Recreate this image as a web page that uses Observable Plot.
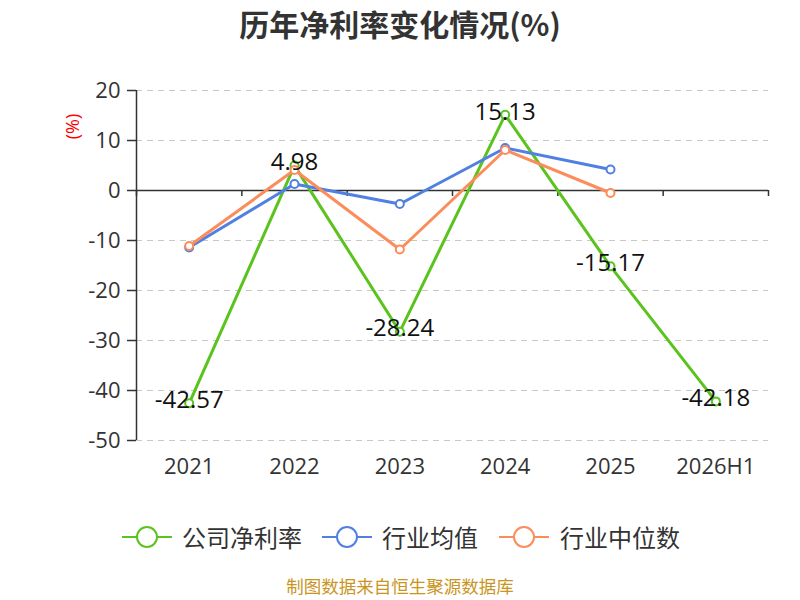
<!DOCTYPE html>
<html><head><meta charset="utf-8">
<script src="https://cdn.jsdelivr.net/npm/d3@7"></script>
<script src="https://cdn.jsdelivr.net/npm/@observablehq/plot@0.6"></script>
<style>
body{margin:0;background:#fff;font-family:"Noto Sans CJK SC","Noto Sans",sans-serif;}
#wrap{position:relative;width:800px;height:600px;overflow:hidden;}
#title{position:absolute;left:0;top:1px;width:800px;text-align:center;font-size:30px;line-height:44px;font-weight:bold;color:#333;}
#legend{position:absolute;left:0;top:518px;width:800px;height:38px;}
.li{position:absolute;top:0;font-size:24px;color:#333;line-height:38px;}
#caption{position:absolute;left:0;top:576px;width:800px;text-align:center;font-size:17.5px;line-height:20px;color:#c9951e;}
#chart{position:absolute;left:0;top:0;}
</style></head>
<body><div id="wrap">
<div id="chart"></div>
<div id="title">历年净利率变化情况(%)</div>
<div id="legend"></div>
<div id="caption">制图数据来自恒生聚源数据库</div>
</div>
<script>
const categories = ["2021","2022","2023","2024","2025","2026H1"];
const companyValues = [-42.57, 4.98, -28.24, 15.13, -15.17, -42.18];
const industryAvg = [-11.4, 1.3, -2.7, 8.5, 4.2];
const industryMedian = [-11.1, 4.1, -11.8, 8.1, -0.5];
const yTicks = [20, 10, 0, -10, -20, -30, -40, -50];
const seriesNames = ["公司净利率", "行业均值", "行业中位数"];
const colors = ["#5ac31e", "#4f80e2", "#fc8c5a"];

const comp = companyValues.map((v,i)=>({i, v}));
const avg = industryAvg.map((v,i)=>({i, v}));
const med = industryMedian.map((v,i)=>({i, v}));
const bounds = d3.range(categories.length + 1).map(k => k - 0.5);

const font = '"Open Sans","Noto Sans CJK SC",sans-serif';

const chart = Plot.plot({
  width: 800, height: 600,
  marginLeft: 136, marginRight: 32, marginTop: 90, marginBottom: 160,
  style: {fontFamily: font, background: "transparent"},
  x: {type: "linear", domain: [-0.5, categories.length - 0.5], axis: null},
  y: {type: "linear", domain: [-50, 20], axis: null},
  marks: [
    Plot.ruleY(yTicks.filter(d => d !== 0), {y: d => d, stroke: "#c8c8c8", strokeWidth: 1.2, strokeDasharray: "6,5"}),
    Plot.ruleX([-0.5], {x: d => d, stroke: "#333", strokeWidth: 1.5}),
    Plot.axisY({ticks: yTicks, tickFormat: d => String(d), tickSize: 9, tickPadding: 7, fontSize: 22, color: "#333", stroke: "#333", strokeWidth: 1.5, label: null}),
    Plot.ruleY([0], {y: d => d, stroke: "#333", strokeWidth: 1.5}),
    Plot.ruleX(bounds, {x: d => d, y1: 0, y2: -1.2, stroke: "#333", strokeWidth: 1.5}),
    Plot.text(categories, {x: (d,i) => i, y: () => -50, text: d => d, dy: 26, fontSize: 22, fill: "#333"}),
    Plot.text(["(%)"], {x: () => -0.5, y: () => 12.8, dx: -63, rotate: -90, fill: "red", fontSize: 18, text: d => d}),
    Plot.line(comp, {x: "i", y: "v", stroke: colors[0], strokeWidth: 3}),
    Plot.dot(comp, {x: "i", y: "v", r: 4, fill: "white", stroke: colors[0], strokeWidth: 2}),
    Plot.line(avg, {x: "i", y: "v", stroke: colors[1], strokeWidth: 3}),
    Plot.dot(avg, {x: "i", y: "v", r: 4, fill: "white", stroke: colors[1], strokeWidth: 2}),
    Plot.line(med, {x: "i", y: "v", stroke: colors[2], strokeWidth: 3}),
    Plot.dot(med, {x: "i", y: "v", r: 4, fill: "white", stroke: colors[2], strokeWidth: 2}),
    Plot.text(comp, {x: "i", y: "v", text: d => d.v.toFixed(2), dy: -3, fontSize: 24, fill: "#111"})
  ]
});
document.getElementById("chart").appendChild(chart);

// Legend
const legend = d3.select("#legend");
const lx = [122, 322, 499];
const tx = [182, 382, 560];
seriesNames.forEach((name, k) => {
  const svg = legend.append("svg").attr("width", 54).attr("height", 38)
    .style("position","absolute").style("left", (lx[k]-2)+"px").style("top","0px");
  svg.append("line").attr("x1",2).attr("x2",52).attr("y1",19).attr("y2",19)
    .attr("stroke", colors[k]).attr("stroke-width", 2);
  svg.append("circle").attr("cx",27).attr("cy",19).attr("r",10)
    .attr("fill","white").attr("stroke", colors[k]).attr("stroke-width", 2);
  legend.append("div").attr("class","li").style("left", tx[k]+"px").text(name);
});
</script>
</body></html>
